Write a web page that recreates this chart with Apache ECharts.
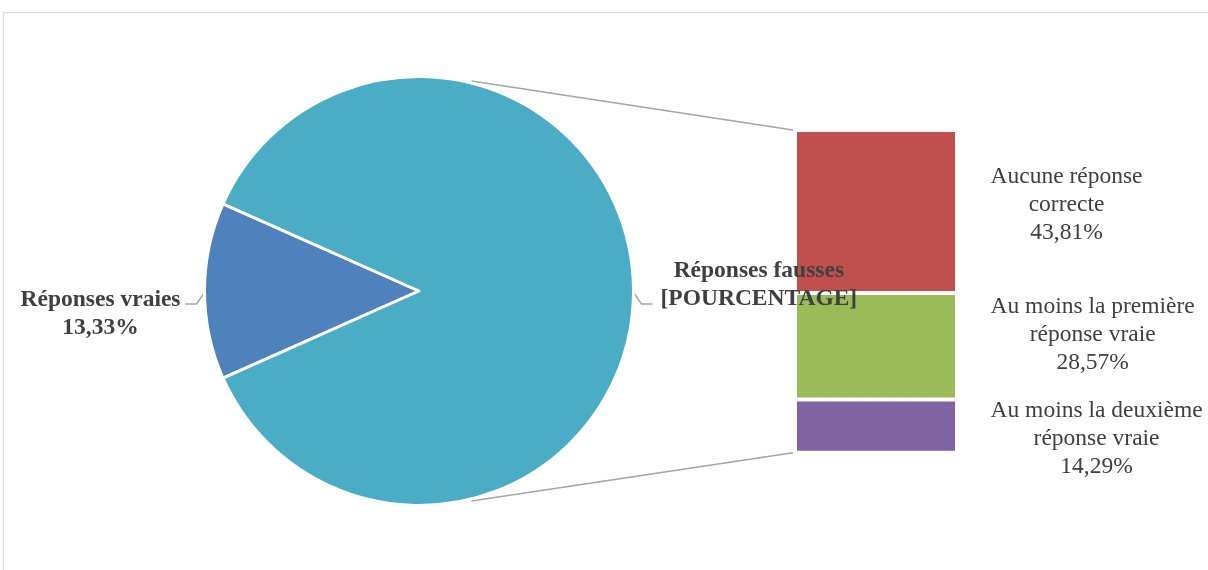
<!DOCTYPE html>
<html>
<head>
<meta charset="utf-8">
<script src="https://cdn.jsdelivr.net/npm/echarts@6/dist/echarts.min.js"></script>
<style>
  html, body { margin: 0; padding: 0; background: #ffffff; }
  #chart { width: 1208px; height: 570px; }
</style>
</head>
<body>
<div id="chart"></div>
<script>
// ---- data ----
const pieNames = ['Réponses vraies', 'Réponses fausses'];
const pieValues = [13.33, 86.67];
const pieValueText = [null, '[POURCENTAGE]'];   // text shown instead of the number (null = use the value)

const barNames = ['Aucune réponse\ncorrecte', 'Au moins la première\nréponse vraie', 'Au moins la deuxième\nréponse vraie'];
const barValues = [43.81, 28.57, 14.29];

// ---- styles ----
const pieColors = ['#4F81BD', '#4BACC6'];
const barColors = ['#C0504D', '#9BBB59', '#8064A2'];
const TEXT = '#404040';
const FONT = "'Liberation Serif', 'Times New Roman', serif";
const FS = 23.5;
const LH = 28;

// ---- layout ----
const PIE_CX = 419, PIE_CY = 291, PIE_R = 213, PIE_BORDER = 3;
const GRID = { left: 795, top: 130, width: 162, height: 322.7 };
const BAR_BORDER = 2;
const CONNECT_ANGLE = 76;          // degrees above / below the horizontal
const LEADER = { dx: 9, dy: 13, len2: 11, gap: [5, 8] };
const PIE_LABEL_DY = [10, -19];     // label block centre relative to the leader end
const BAR_LABEL_GAP = 33.5;
const BAR_LABEL_DY = [-6.8, -11, 13];

const fmtPct = v => v.toFixed(2).replace('.', ',') + '%';
const pieTotal = pieValues.reduce((a, b) => a + b, 0);
const barTotal = barValues.reduce((a, b) => a + b, 0);
const startAngle = 180 + pieValues[0] / pieTotal * 180;

// mid angle of each slice (degrees, counter-clockwise from +x), slices run clockwise
const midAngles = [];
{
  let a = startAngle;
  pieValues.forEach(v => {
    const span = v / pieTotal * 360;
    midAngles.push(a - span / 2);
    a -= span;
  });
}

const chart = echarts.init(document.getElementById('chart'), null, { renderer: 'canvas' });

// lines joining the pie to the stacked bar
const rad = CONNECT_ANGLE * Math.PI / 180;
const rc = PIE_R + 3.5;
const connectors = [
  [[PIE_CX + rc * Math.cos(rad), PIE_CY - rc * Math.sin(rad)], [GRID.left - 2, GRID.top]],
  [[PIE_CX + rc * Math.cos(rad), PIE_CY + rc * Math.sin(rad)], [GRID.left - 2, GRID.top + GRID.height]]
].map(([p, q]) => ({
  type: 'line',
  z: 1,
  silent: true,
  shape: { x1: p[0], y1: p[1], x2: q[0], y2: q[1] },
  style: { stroke: '#a6a6a6', lineWidth: 1.5 }
}));

const barSeries = barValues.map((v, i) => ({
  name: barNames[i],
  type: 'bar',
  stack: 'detail',
  barWidth: '100%',
  z: 2,
  data: [v],
  itemStyle: { color: barColors[i], borderColor: '#ffffff', borderWidth: BAR_BORDER },
  label: {
    show: true,
    position: 'right',
    formatter: p => p.seriesName + '\n' + fmtPct(p.value),
    color: TEXT,
    fontFamily: FONT,
    fontSize: FS,
    lineHeight: LH,
    align: 'center'
  },
  labelLayout: p => ({
    x: p.rect.x + p.rect.width + BAR_LABEL_GAP + p.labelRect.width / 2,
    y: p.rect.y + p.rect.height / 2 + BAR_LABEL_DY[p.seriesIndex - 1],
    align: 'center',
    verticalAlign: 'middle'
  }),
  emphasis: { disabled: true },
  animation: false
}));

const option = {
  backgroundColor: '#ffffff',
  animation: false,
  graphic: [
    {
      type: 'rect',
      z: 0,
      silent: true,
      shape: { x: 3.5, y: 12.5, width: 1300, height: 700 },
      style: { fill: 'none', stroke: '#d9d9d9', lineWidth: 1.2 }
    },
    ...connectors
  ],
  grid: { left: GRID.left, top: GRID.top, width: GRID.width, height: GRID.height },
  xAxis: { type: 'category', data: [''], show: false },
  // inverse so the first segment sits on top of the stack
  yAxis: { type: 'value', min: 0, max: barTotal, inverse: true, show: false },
  series: [
    {
      type: 'pie',
      z: 3,
      center: [PIE_CX, PIE_CY],
      radius: PIE_R + PIE_BORDER / 2,
      startAngle: startAngle,
      clockwise: true,
      avoidLabelOverlap: false,
      data: pieNames.map((n, i) => ({ name: n, value: pieValues[i], itemStyle: { color: pieColors[i] } })),
      itemStyle: { borderColor: '#ffffff', borderWidth: PIE_BORDER },
      label: {
        show: true,
        position: 'outside',
        formatter: p => p.name + '\n' + (pieValueText[p.dataIndex] || fmtPct(p.value)),
        color: TEXT,
        fontFamily: FONT,
        fontWeight: 'bold',
        fontSize: FS,
        lineHeight: LH,
        align: 'center'
      },
      labelLine: { show: true, length: 10, length2: 11, lineStyle: { color: '#a6a6a6', width: 1.5 } },
      labelLayout: p => {
        const i = p.dataIndex;
        const a = midAngles[i] * Math.PI / 180;
        const side = Math.cos(a) < 0 ? -1 : 1;
        const r = PIE_R + 0.5;
        const x0 = PIE_CX + r * Math.cos(a), y0 = PIE_CY - r * Math.sin(a);
        const x1 = x0 + side * LEADER.dx, y1 = y0 + LEADER.dy;
        const x2 = x1 + side * LEADER.len2;
        return {
          x: x2 + side * (LEADER.gap[i] + p.labelRect.width / 2),
          y: y1 + PIE_LABEL_DY[i],
          align: 'center',
          verticalAlign: 'middle',
          labelLinePoints: [[x0, y0], [x1, y1], [x2, y1]]
        };
      },
      emphasis: { disabled: true },
      animation: false
    },
    ...barSeries
  ]
};

chart.setOption(option);
</script>
</body>
</html>
